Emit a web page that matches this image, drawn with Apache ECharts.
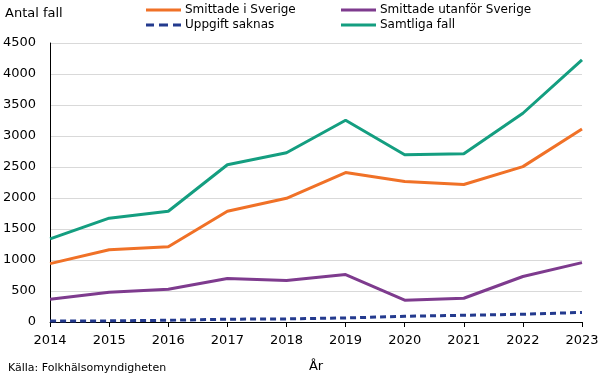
<!DOCTYPE html>
<html><head><meta charset="utf-8">
<script src="https://cdn.jsdelivr.net/npm/echarts@6/dist/echarts.min.js"></script>
<style>html,body{margin:0;padding:0;background:#fff}#c{width:605px;height:378px}</style>
</head><body><div id="c"></div>
<script>
const years = ['2014','2015','2016','2017','2018','2019','2020','2021','2022','2023'];
const smittadeSverige = [942, 1165, 1213, 1787, 1995, 2410, 2266, 2218, 2506, 3112];
const smittadeUtanfor = [367, 479, 527, 702, 670, 766, 351, 383, 734, 958];
const uppgiftSaknas = [15, 18, 28, 45, 50, 65, 92, 108, 125, 155];
const samtliga = [1340, 1675, 1787, 2537, 2729, 3255, 2697, 2713, 3367, 4229];

const FONT = 'DejaVu Sans';
const chart = echarts.init(document.getElementById('c'), null, {renderer:'canvas'});
function legendAt(name, left, top, icon){
  return {data:[name], left:left, top:top, itemWidth:35, itemHeight:3, itemGap:0,
    icon: icon || 'rect', textStyle:{fontFamily:FONT, fontSize:12, color:'#000', padding:[0,0,0,-1]}, padding:0, selectedMode:false};
}
const mk = (name, data, color, dashed) => ({
  name, type:'line', data, symbol:'none', showSymbol:false, smooth:false,
  lineStyle:{color, width:3, type: dashed ? [6,4] : 'solid'}, itemStyle:{color}, z: dashed?3:2, animation:false
});
chart.setOption({
  animation:false,
  textStyle:{fontFamily:FONT},
  title:[
    {text:'Antal fall', left:0, top:2, textStyle:{fontFamily:FONT, fontSize:13, fontWeight:'normal', color:'#000'}},
    {text:'Källa: Folkhälsomyndigheten', left:3, top:358, textStyle:{fontFamily:FONT, fontSize:11, fontWeight:'normal', color:'#000'}}
  ],
  legend:[
    legendAt('Smittade i Sverige', 146, 4),
    legendAt('Smittade utanför Sverige', 341, 4),
    legendAt('Uppgift saknas', 146, 19, 'path://M0,0h8v3h-8z M13,0h9v3h-9z M27,0h8v3h-8z'),
    legendAt('Samtliga fall', 341, 19)
  ],
  grid:{left:48, right:23, top:43, bottom:53, containLabel:false},
  xAxis:{type:'category', data:years, boundaryGap:false, name:'År', nameLocation:'middle', nameGap:38,
    nameTextStyle:{fontFamily:FONT, fontSize:13, color:'#000'},
    axisLine:{lineStyle:{color:'#000', width:1}}, axisTick:{show:true, length:5, lineStyle:{color:'#000'}},
    axisLabel:{fontFamily:FONT, fontSize:13, color:'#000', margin:12}, splitLine:{show:false}},
  yAxis:{type:'value', min:0, max:4500, interval:500,
    axisLine:{show:true, lineStyle:{color:'#000'}}, axisTick:{show:false},
    axisLabel:{fontFamily:FONT, fontSize:13, color:'#000', margin:14, formatter: v => String(v)},
    splitLine:{lineStyle:{color:'#d9d9d9', width:1}}},
  series:[
    mk('Smittade i Sverige', smittadeSverige, '#F07127', false),
    mk('Smittade utanför Sverige', smittadeUtanfor, '#7E3B8E', false),
    mk('Uppgift saknas', uppgiftSaknas, '#233A8E', true),
    mk('Samtliga fall', samtliga, '#149E80', false)
  ]
});
</script></body></html>
